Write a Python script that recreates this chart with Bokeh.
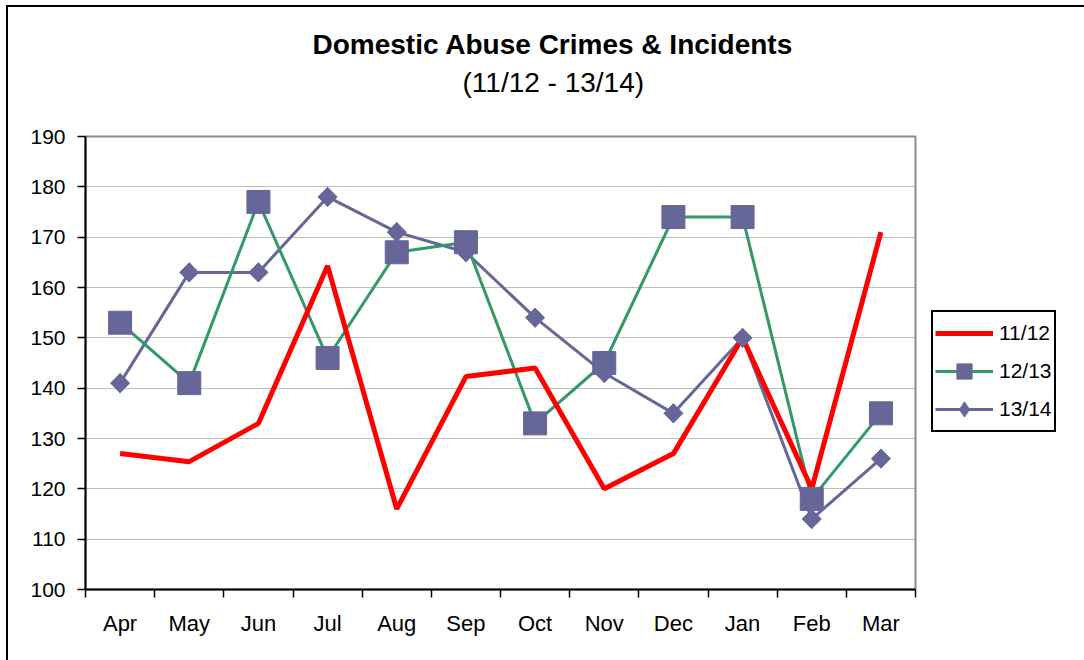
from bokeh.plotting import figure
from bokeh.models import (Range1d, FixedTicker, Legend, LegendItem, Title,
                          SingleIntervalTicker)
from bokeh.embed import file_html
from bokeh.resources import INLINE
import math

months = ["Apr", "May", "Jun", "Jul", "Aug", "Sep", "Oct", "Nov", "Dec", "Jan", "Feb", "Mar"]
s_1112 = [127, 125.4, 133, 164.3, 116, 142.3, 144, 120, 127, 150, 120, 171]
s_1213 = [153, 141, 177, 146, 167, 169, 133, 145, 174, 174, 118, 135]
s_1314 = [141, 163, 163, 178, 171, 167, 154, 143, 135, 150, 114, 126]
series_names = ["11/12", "12/13", "13/14"]

x = [i + 0.5 for i in range(len(months))]

FONT = "Liberation Sans"

# outer chart border: left margin 6 + 2px border, top margin 5 + 2px border
p = figure(frame_width=830, frame_height=453, output_backend="svg", toolbar_location=None,
           x_range=Range1d(0, len(months)), y_range=Range1d(100, 190),
           min_border_left=77, min_border_right=169, min_border_top=129, min_border_bottom=71,
           margin=(5, 0, 0, 6),
           styles={"border-left": "2px solid black", "border-top": "2px solid black"})

p.background_fill_color = "white"
p.border_fill_color = "white"
p.outline_line_color = "#8c8c8c"
p.outline_line_width = 2

# axes
xa = p.xaxis[0]
xa.ticker = FixedTicker(ticks=x, minor_ticks=list(range(len(months) + 1)))
xa.major_label_overrides = {xi: m for xi, m in zip(x, months)}
xa.major_tick_out = 0
xa.major_tick_in = 0
xa.minor_tick_out = 8
xa.minor_tick_in = 0
xa.minor_tick_line_color = "black"
xa.minor_tick_line_width = 1.5
xa.axis_line_color = "black"
xa.axis_line_width = 2
xa.major_label_standoff = 13
xa.major_label_text_font = FONT
xa.major_label_text_font_size = "22px"
xa.major_label_text_color = "black"

ya = p.yaxis[0]
ya.ticker = SingleIntervalTicker(interval=10, num_minor_ticks=0)
ya.major_tick_out = 8
ya.major_tick_in = 0
ya.major_tick_line_color = "black"
ya.major_tick_line_width = 1.5
ya.minor_tick_out = 0
ya.axis_line_color = "black"
ya.axis_line_width = 2
ya.major_label_standoff = 12
ya.major_label_text_font = FONT
ya.major_label_text_font_size = "21px"
ya.major_label_text_color = "black"

p.xgrid.grid_line_color = None
p.ygrid.grid_line_color = "#7a7a7a"
p.ygrid.grid_line_dash = "1 1"
p.ygrid.grid_line_width = 1

# titles (spacer first, nearest the frame)
p.add_layout(Title(text=" ", text_font=FONT, text_font_size="10px", standoff=21), "above")
p.add_layout(Title(text="(11/12 - 13/14)", align="left", offset=377, text_font=FONT,
                   text_font_size="28px", text_font_style="normal", text_color="black",
                   standoff=10), "above")
p.add_layout(Title(text="Domestic Abuse Crimes & Incidents", align="left", offset=227,
                   text_font=FONT, text_font_size="28px", text_font_style="bold",
                   text_color="black", standoff=0), "above")

# series
l3 = p.line(x, s_1314, line_color="#666699", line_width=3)
l2 = p.line(x, s_1213, line_color="#339966", line_width=3)
l1 = p.line(x, s_1112, line_color="#FF0000", line_width=5)
# diamond marker (sits inside the rotated square; gives the legend a diamond shape)
d3 = p.scatter(x, s_1314, marker="diamond", size=19,
               fill_color="#666699", line_color="#666699")
m3 = p.scatter(x, s_1314, marker="square", size=13.5, angle=math.pi / 4,
               fill_color="#666699", line_color="#666699")
m2 = p.scatter(x, s_1213, marker="square", size=23,
               fill_color="#666699", line_color="#666699")

legend = Legend(items=[
    LegendItem(label=series_names[0], renderers=[l1]),
    LegendItem(label=series_names[1], renderers=[l2, m2]),
    LegendItem(label=series_names[2], renderers=[l3, d3]),
], location=(16, 157))
legend.border_line_color = "black"
legend.border_line_width = 2
legend.border_line_alpha = 1
legend.background_fill_color = "white"
legend.background_fill_alpha = 1
legend.label_text_font = FONT
legend.label_text_font_size = "21px"
legend.label_text_color = "black"
legend.glyph_width = 58
legend.glyph_height = 38
legend.label_height = 38
legend.spacing = 0
legend.padding = 2
legend.margin = 0
legend.label_standoff = 6
p.add_layout(legend, "right")

open("out.html", "w").write(file_html(p, INLINE))
